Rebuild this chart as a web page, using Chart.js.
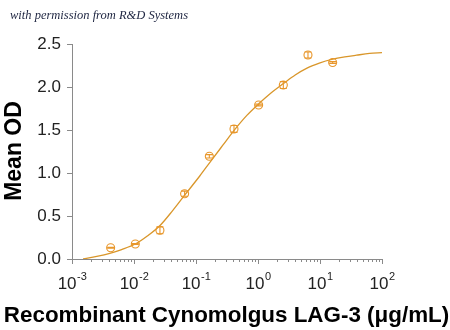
<!DOCTYPE html>
<html>
<head>
<meta charset="utf-8">
<script src="https://cdn.jsdelivr.net/npm/chart.js@4"></script>
<style>
  html,body{margin:0;padding:0;background:#fff;}
  #wrap{width:450px;height:330px;position:relative;}
</style>
</head>
<body>
<div id="wrap"><canvas id="c" width="450" height="330"></canvas></div>
<script>
// Measured points (concentration in µg/mL, mean OD, error)
const concentrations = [0.0042, 0.0105, 0.0262, 0.0655, 0.164, 0.41, 1.024, 2.56, 6.4, 16];
const meanOD = [0.131, 0.174, 0.334, 0.759, 1.194, 1.512, 1.791, 2.023, 2.372, 2.285];
const errOD = [0.005, 0.005, 0.04, 0.03, 0.02, 0.04, 0.01, 0.04, 0.035, 0.01];

// Fitted curve
const curveX = [0.00151, 0.00251, 0.00407, 0.00631, 0.0105, 0.0166, 0.0263, 0.0417, 0.0661, 0.115, 0.170, 0.269, 0.427, 0.661, 1.047, 1.62, 2.57, 3.98, 6.17, 10, 15.5, 25.1, 38.9, 63.1, 100];
const curveY = [0.0, 0.03, 0.066, 0.11, 0.174, 0.27, 0.39, 0.56, 0.745, 0.965, 1.13, 1.32, 1.51, 1.67, 1.81, 1.93, 2.04, 2.14, 2.22, 2.28, 2.32, 2.35, 2.37, 2.39, 2.40];

// Axis ticks
const xMajorTicks = [0.001, 0.01, 0.1, 1, 10, 100];
const xTickExponents = ['-3', '-2', '-1', '0', '1', '2'];
const yTicks = [0, 0.5, 1.0, 1.5, 2.0, 2.5];

const xTitle = 'Recombinant Cynomolgus LAG-3 (\u03BCg/mL)';
const yTitle = 'Mean OD';
const credit = 'with permission from R&D Systems';

const AXIS = '#8a8a8a';
const ORANGE = '#E8962A';
const CURVE = '#D9962A';

const pointData = concentrations.map((x, i) => ({x: x, y: meanOD[i], e: errOD[i]}));
const curveData = curveX.map((x, i) => ({x: x, y: curveY[i]}));

const decor = {
  id: 'decor',
  afterDatasetsDraw(chart) {
    const ctx = chart.ctx;
    const xs = chart.scales.x, ys = chart.scales.y;
    ctx.save();
    ctx.strokeStyle = ORANGE;
    ctx.lineWidth = 1.1;
    pointData.forEach(p => {
      const px = xs.getPixelForValue(p.x);
      const y1 = ys.getPixelForValue(p.y + p.e);
      const y2 = ys.getPixelForValue(p.y - p.e);
      ctx.beginPath();
      ctx.moveTo(px, y1); ctx.lineTo(px, y2);
      ctx.moveTo(px - 3.5, y1); ctx.lineTo(px + 3.5, y1);
      ctx.moveTo(px - 3.5, y2); ctx.lineTo(px + 3.5, y2);
      ctx.stroke();
    });
    ctx.restore();
  },
  afterDraw(chart) {
    const ctx = chart.ctx;
    const xs = chart.scales.x;
    const area = chart.chartArea;
    ctx.save();
    ctx.strokeStyle = AXIS;
    ctx.lineWidth = 1;
    xMajorTicks.forEach((v, i) => {
      const px = Math.round(xs.getPixelForValue(v)) + 0.5;
      ctx.beginPath(); ctx.moveTo(px, area.bottom); ctx.lineTo(px, area.bottom + 5); ctx.stroke();
      if (i < xMajorTicks.length - 1) {
        for (let m = 2; m <= 9; m++) {
          const mx = Math.round(xs.getPixelForValue(v * m)) + 0.5;
          ctx.beginPath(); ctx.moveTo(mx, area.bottom); ctx.lineTo(mx, area.bottom + 3); ctx.stroke();
        }
      }
    });
    ctx.fillStyle = '#222';
    ctx.textBaseline = 'alphabetic';
    xMajorTicks.forEach((v, i) => {
      const px = xs.getPixelForValue(v);
      ctx.font = '17px "Liberation Sans", Arial, sans-serif';
      const bw = ctx.measureText('10').width;
      ctx.font = '11px "Liberation Sans", Arial, sans-serif';
      const ew = ctx.measureText(xTickExponents[i]).width;
      const start = px - (bw + ew) / 2;
      ctx.font = '17px "Liberation Sans", Arial, sans-serif';
      ctx.textAlign = 'left';
      ctx.fillText('10', start, 289);
      ctx.font = '11px "Liberation Sans", Arial, sans-serif';
      ctx.fillText(xTickExponents[i], start + bw + 0.5, 280);
    });
    ctx.font = 'bold 22.4px "Liberation Sans", Arial, sans-serif';
    ctx.textAlign = 'center';
    ctx.textBaseline = 'middle';
    ctx.fillStyle = '#000';
    ctx.fillText(xTitle, 226.5, 316);
    ctx.save();
    ctx.translate(15, 151);
    ctx.rotate(-Math.PI / 2);
    ctx.font = 'bold 23px "Liberation Sans", Arial, sans-serif';
    ctx.fillText(yTitle, 0, 0);
    ctx.restore();
    ctx.font = 'italic 12.5px "Liberation Serif", "DejaVu Serif", serif';
    ctx.textAlign = 'left';
    ctx.fillStyle = '#1d2440';
    ctx.fillText(credit, 10, 16);
    ctx.restore();
  }
};

new Chart(document.getElementById('c'), {
  type: 'scatter',
  data: {
    datasets: [
      {
        label: 'points',
        data: pointData,
        pointStyle: 'circle',
        pointRadius: 4,
        pointBorderWidth: 1.1,
        pointBorderColor: ORANGE,
        pointBackgroundColor: 'rgba(0,0,0,0)',
        showLine: false
      },
      {
        label: 'fit',
        type: 'line',
        data: curveData,
        borderColor: CURVE,
        borderWidth: 1.3,
        pointRadius: 0,
        fill: false,
        cubicInterpolationMode: 'monotone'
      }
    ]
  },
  options: {
    responsive: false,
    animation: false,
    layout: {padding: {top: 44, right: 68, left: 0, bottom: 0}},
    plugins: {legend: {display: false}, tooltip: {enabled: false}, title: {display: false}},
    scales: {
      x: {
        type: 'logarithmic',
        min: 0.001,
        max: 100,
        grid: {display: false},
        border: {display: true, color: AXIS, width: 1},
        ticks: {display: false},
        afterFit(scale) { scale.height = 71; }
      },
      y: {
        min: 0,
        max: 2.5,
        afterBuildTicks(scale) { scale.ticks = yTicks.map(v => ({value: v})); },
        grid: {display: true, drawOnChartArea: false, drawTicks: true, tickLength: 5, color: AXIS},
        border: {display: true, color: AXIS, width: 1},
        ticks: {
          color: '#222',
          padding: 6,
          font: {family: '"Liberation Sans", Arial, sans-serif', size: 17},
          callback: v => Number(v).toFixed(1)
        },
        afterFit(scale) { scale.width = 72; }
      }
    }
  },
  plugins: [decor]
});
</script>
</body>
</html>
